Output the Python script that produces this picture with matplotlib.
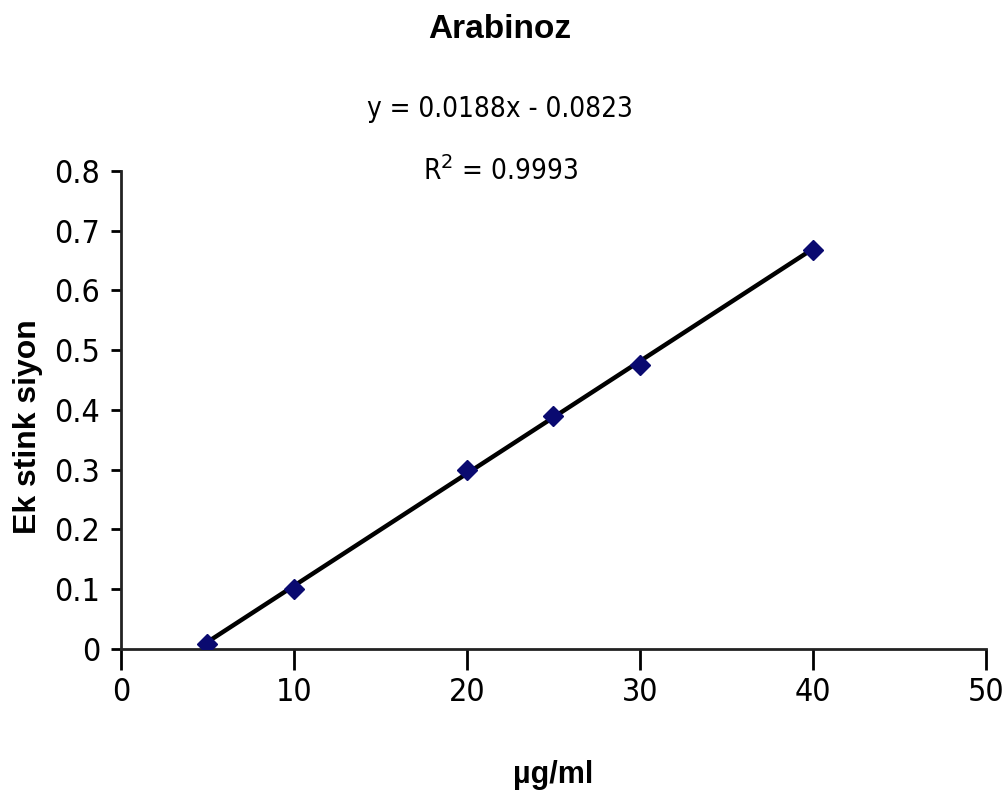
import matplotlib

matplotlib.use("Agg")
import matplotlib.pyplot as plt  # noqa: E402

# measured concentrations (ug/ml) and absorbance readings
conc = [5, 10, 20, 25, 30, 40]
absorb = [0.008, 0.100, 0.300, 0.390, 0.475, 0.667]

# Excel linear trendline as printed on the chart
slope = 0.0188
intercept = -0.0823

x_ticks = [0, 10, 20, 30, 40, 50]
y_ticks = [0, 0.1, 0.2, 0.3, 0.4, 0.5, 0.6, 0.7, 0.8]
y_tick_labels = ["0", "0.1", "0.2", "0.3", "0.4", "0.5", "0.6", "0.7", "0.8"]

narrow = dict(family=["DejaVu Sans"], stretch="condensed")
bold = ["Liberation Sans", "DejaVu Sans"]

fig = plt.figure(figsize=(10.04, 8.05), dpi=100)
ax = fig.add_axes([0.1205, 0.1938, 0.8615, 0.5938])

x0, x1 = min(conc), max(conc)
ax.plot([x0, x1], [slope * x0 + intercept, slope * x1 + intercept], color="black", lw=3.2, zorder=2)
ax.plot(conc, absorb, linestyle="none", marker="D", markersize=10, color="#0a0a70", zorder=3)

ax.set_xlim(0, 50)
ax.set_ylim(0, 0.8)
ax.set_xticks(x_ticks)
ax.set_xticklabels([str(t) for t in x_ticks], fontsize=23, **narrow)
ax.set_yticks(y_ticks)
ax.set_yticklabels(y_tick_labels, fontsize=23, **narrow)
ax.tick_params(axis="x", direction="out", length=15, width=2, pad=5)
ax.tick_params(axis="y", direction="out", length=7, width=2, pad=8)
for side in ("top", "right"):
    ax.spines[side].set_visible(False)
for side in ("left", "bottom"):
    ax.spines[side].set_linewidth(2)
    ax.spines[side].set_color("#222222")

fig.text(0.498, 0.963, "Arabinoz", ha="center", va="center", family=bold, fontsize=24, fontweight="bold")
fig.text(0.498, 0.865, f"y = {slope}x - {abs(intercept)}", ha="center", va="center", fontsize=20, **narrow)
fig.text(0.498, 0.787, "R$^2$ = 0.9993", ha="center", va="center", fontsize=20, **narrow)

ax.set_xlabel("\u00b5g/ml", family=bold, fontsize=22, fontweight="bold", va="center")
ax.xaxis.set_label_coords(0.5, (649 - 775) / 478)
ax.set_ylabel("Ek stink siyon", family=bold, fontsize=23, fontweight="bold", va="center")
ax.yaxis.set_label_coords((28 - 121) / 865, (649 - 427) / 478)

fig.savefig("out.png", dpi=100)
